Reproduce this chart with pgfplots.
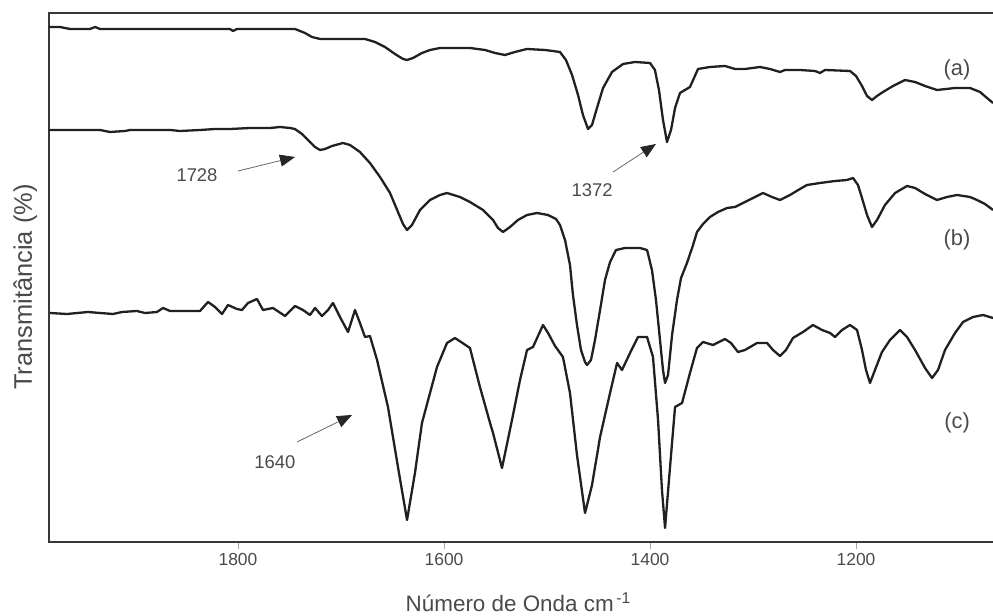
\documentclass[border=0pt]{standalone}
\usepackage{pgfplots}
\pgfplotsset{compat=1.18}
\usepackage{pgfplotstable}
\usepackage{fontspec}
\setmainfont{Liberation Sans}
\usetikzlibrary{arrows.meta}
\definecolor{txt}{HTML}{4A4A4A}
\definecolor{crv}{HTML}{202020}

\pgfplotstableread{
v T
1983.5 515
1972.8 515
1963.1 513
1943.7 513
1938.8 515
1934.0 513
1807.8 513
1804.9 511
1801.0 513
1744.7 513
1735.0 509
1728.2 505
1720.4 503
1676.7 503
1667.0 500
1657.3 495
1647.6 488
1639.8 483
1635.9 482
1630.1 484
1621.4 489
1613.6 492
1603.9 494
1574.8 494
1560.2 492
1550.5 489
1540.8 487
1531.1 490
1519.4 493
1501.9 492
1487.4 490
1481.6 482
1475.7 467
1469.9 447
1465.1 427
1460.2 413
1456.3 417
1451.5 434
1445.6 454
1436.9 470
1426.2 478
1414.6 480
1400.0 479
1395.2 472
1391.3 452
1387.4 422
1383.5 400
1379.6 412
1375.7 434
1370.9 449
1361.2 455
1357.3 464
1353.4 473
1341.8 475
1327.2 476
1317.5 473
1307.8 473
1293.2 475
1283.5 473
1273.8 470
1268.9 472
1254.4 472
1239.8 471
1235.0 469
1230.1 472
1205.8 471
1200.0 466
1194.2 456
1189.3 446
1184.5 442
1179.6 446
1173.8 450
1164.1 456
1152.4 462
1142.7 460
1133.0 456
1121.4 452
1103.9 454
1089.3 454
1079.6 450
1072.8 444
1067.0 439
}\seriesA

\pgfplotstableread{
v T
1983.5 412
1934.0 412
1924.3 410
1909.7 411
1904.9 412
1866.0 412
1856.3 411
1836.9 412
1822.3 413
1807.8 413
1788.4 414
1768.9 414
1759.2 415
1749.5 414
1744.7 413
1737.9 408
1730.1 400
1725.2 395
1720.4 392
1715.5 393
1708.7 396
1698.1 399
1691.3 397
1681.6 390
1671.9 379
1662.1 365
1652.4 349
1644.7 330
1639.8 318
1635.9 312
1631.1 317
1623.3 332
1613.6 342
1603.9 347
1597.1 349
1584.5 345
1574.8 340
1562.1 332
1552.4 322
1547.6 314
1542.7 310
1535.9 315
1528.2 322
1519.4 327
1509.7 329
1499.0 327
1491.3 323
1487.4 317
1482.5 302
1477.7 277
1474.8 247
1470.9 217
1467.0 192
1463.1 180
1461.2 177
1457.3 182
1453.4 202
1448.5 232
1443.7 262
1438.8 280
1433.0 292
1424.3 294
1409.7 294
1402.9 292
1398.1 272
1394.2 242
1390.3 202
1387.4 172
1385.4 159
1382.5 167
1378.6 207
1373.8 242
1369.9 264
1364.1 279
1358.2 297
1354.4 310
1348.5 318
1341.8 325
1334.0 330
1325.2 334
1317.5 335
1307.8 340
1298.1 345
1290.3 349
1281.6 345
1273.8 342
1264.1 347
1254.4 353
1247.6 357
1235.0 359
1220.4 361
1208.7 362
1202.9 364
1198.1 357
1194.2 344
1189.3 327
1184.5 315
1179.6 322
1171.9 337
1162.1 349
1150.5 356
1142.7 354
1133.0 348
1121.4 342
1111.7 345
1101.9 347
1089.3 345
1082.5 342
1074.8 338
1067.0 332
}\seriesB

\pgfplotstableread{
v T
1982.5 229
1966.0 228
1945.6 230
1934.0 229
1921.4 228
1912.6 230
1898.1 231
1890.3 229
1878.6 230
1872.8 234
1866.0 231
1836.9 231
1829.1 240
1822.3 235
1815.5 228
1809.7 237
1801.0 233
1796.1 232
1790.3 239
1781.6 243
1775.7 232
1766.0 234
1754.4 226
1744.7 236
1736.9 232
1730.1 227
1725.2 234
1718.5 226
1712.6 232
1707.8 239
1701.0 225
1693.2 210
1686.4 232
1681.6 219
1676.7 205
1671.9 206
1665.0 182
1654.4 135
1644.7 75
1635.9 22
1628.2 69
1621.4 119
1606.8 175
1597.1 199
1589.3 204
1574.8 194
1565.1 155
1555.3 119
1552.4 109
1543.7 74
1534.0 122
1526.2 162
1519.4 192
1513.6 195
1503.9 217
1499.0 209
1492.2 196
1484.5 185
1477.7 149
1470.9 87
1463.1 29
1456.3 57
1448.5 105
1438.8 149
1432.0 179
1427.2 172
1419.4 189
1411.7 205
1402.9 205
1397.1 185
1392.2 122
1388.4 52
1385.4 14
1381.6 62
1375.7 135
1368.9 139
1361.2 169
1354.4 194
1348.5 200
1338.8 197
1327.2 203
1321.4 199
1314.6 190
1307.8 192
1296.1 199
1286.4 199
1280.6 192
1273.8 186
1268.0 192
1261.2 204
1251.5 210
1241.8 217
1233.0 212
1225.2 209
1220.4 205
1213.6 212
1205.8 217
1199.0 212
1194.2 192
1190.3 172
1186.4 159
1181.6 172
1174.8 190
1167.0 202
1157.3 212
1150.5 205
1142.7 192
1133.0 174
1126.2 164
1120.4 172
1113.6 192
1103.9 209
1096.1 220
1086.4 225
1076.7 227
1067.0 224
}\seriesC

\begin{document}
\begin{tikzpicture}
\useasboundingbox (0,0) rectangle (993bp,616bp);
\begin{axis}[
  at={(49bp,74bp)}, anchor=south west,
  scale only axis, width=950bp, height=529bp,
  x dir=reverse, xmin=1061.2, xmax=1983.5,
  ymin=0, ymax=529,
  xtick={1200,1400,1600,1800}, ytick=\empty,
  xtick pos=left, tick align=outside,
  major tick length=7bp,
  every tick/.style={black!35, line width=0.6bp},
  /pgf/number format/assume math mode=true,
  /pgf/number format/1000 sep={},
  xticklabel style={font=\fontsize{17.5}{20}\selectfont, text=txt, yshift=-1bp},
  axis line style={black!78, line width=1.6bp},
  xlabel={Número de Onda cm\textsuperscript{\,-1}},
  ylabel={Transmitância (\%)},
  xlabel style={font=\fontsize{22.5}{26}\selectfont, text=txt, at={(axis description cs:0.494,-0.131)}, anchor=base, inner sep=0pt},
  ylabel style={font=\fontsize{25.5}{28}\selectfont, text=txt, at={(axis description cs:-0.025,0.482)}, anchor=center},
  clip=true,
]
\addplot[crv, line width=2.3bp, line join=round, no markers] table[x=v, y=T] {\seriesA};
\addplot[crv, line width=2.3bp, line join=round, no markers] table[x=v, y=T] {\seriesB};
\addplot[crv, line width=2.3bp, line join=round, no markers] table[x=v, y=T] {\seriesC};

\node[font=\fontsize{22}{26}\selectfont, text=txt] at (axis cs:1101.9,472) {(a)};
\node[font=\fontsize{22}{26}\selectfont, text=txt] at (axis cs:1101.9,302) {(b)};
\node[font=\fontsize{22}{26}\selectfont, text=txt] at (axis cs:1101.9,119) {(c)};

\draw[black!60, line width=0.8bp, -{Triangle[length=15bp,width=12bp,color=black!85]}]
  (axis cs:1800.0,371) -- (axis cs:1744.7,385);
\node[font=\fontsize{18.5}{22}\selectfont, text=txt] at (axis cs:1839.8,367) {1728};
\draw[black!60, line width=0.8bp, -{Triangle[length=15bp,width=12bp,color=black!85]}]
  (axis cs:1435.9,370) -- (axis cs:1394.2,398);
\node[font=\fontsize{18.5}{22}\selectfont, text=txt] at (axis cs:1456.3,352) {1372};
\draw[black!60, line width=0.8bp, -{Triangle[length=15bp,width=12bp,color=black!85]}]
  (axis cs:1742.7,100) -- (axis cs:1689.3,127);
\node[font=\fontsize{18.5}{22}\selectfont, text=txt] at (axis cs:1764.1,80) {1640};
\end{axis}
\end{tikzpicture}
\end{document}
